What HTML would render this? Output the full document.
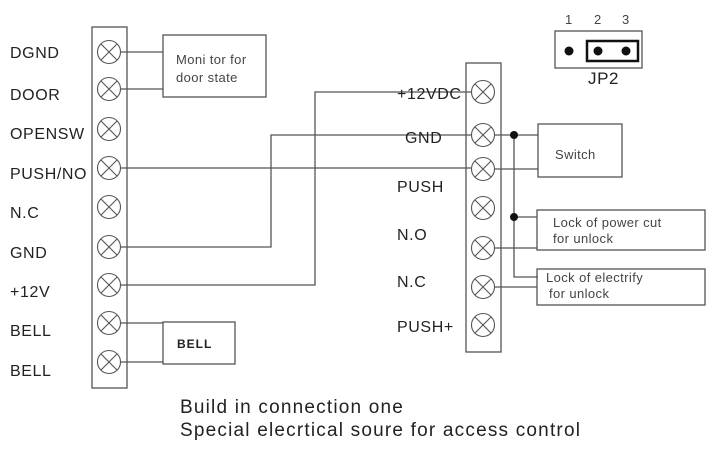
<!DOCTYPE html>
<html><head><style>body{margin:0;background:#fff}svg{display:block}</style></head><body>
<svg width="720" height="454" viewBox="0 0 720 454" xmlns="http://www.w3.org/2000/svg" font-family="Liberation Sans, Arial, sans-serif">
<g fill="none" stroke="#555" stroke-width="1.3">
<rect x="92" y="27" width="35" height="361"/>
<rect x="466" y="63" width="35" height="289"/>
<rect x="163" y="35" width="103" height="62"/>
<rect x="163" y="322" width="72" height="42"/>
<rect x="538" y="124" width="84" height="53"/>
<rect x="537" y="210" width="168" height="40"/>
<rect x="537" y="269" width="168" height="36"/>
<rect x="555" y="31" width="87" height="37"/>
<path d="M121 52H163M121 89H163M121 323H163M121 362H163"/>
<path d="M121 247H271V135H471M121 168H471M121 285H315V92H471"/>
<path d="M495 135H538M495 169H538M514 135V277H538M514 217H537M495 248H537M495 287H537"/>
</g>
<g stroke="#555" stroke-width="1.1" fill="#fff">
<circle cx="109" cy="52" r="11.5"/><circle cx="109" cy="89" r="11.5"/><circle cx="109" cy="129" r="11.5"/><circle cx="109" cy="168" r="11.5"/><circle cx="109" cy="207" r="11.5"/><circle cx="109" cy="247" r="11.5"/><circle cx="109" cy="285" r="11.5"/><circle cx="109" cy="323" r="11.5"/><circle cx="109" cy="362" r="11.5"/>
<circle cx="483" cy="92" r="11.5"/><circle cx="483" cy="135" r="11.5"/><circle cx="483" cy="169" r="11.5"/><circle cx="483" cy="208" r="11.5"/><circle cx="483" cy="248" r="11.5"/><circle cx="483" cy="287" r="11.5"/><circle cx="483" cy="325" r="11.5"/>
</g>
<g stroke="#555" stroke-width="1.1">
<path d="M101 44l16 16M117 44l-16 16M101 81l16 16M117 81l-16 16M101 121l16 16M117 121l-16 16M101 160l16 16M117 160l-16 16M101 199l16 16M117 199l-16 16M101 239l16 16M117 239l-16 16M101 277l16 16M117 277l-16 16M101 315l16 16M117 315l-16 16M101 354l16 16M117 354l-16 16"/>
<path d="M475 84l16 16M491 84l-16 16M475 127l16 16M491 127l-16 16M475 161l16 16M491 161l-16 16M475 200l16 16M491 200l-16 16M475 240l16 16M491 240l-16 16M475 279l16 16M491 279l-16 16M475 317l16 16M491 317l-16 16"/>
</g>
<circle cx="514" cy="135" r="4" fill="#111"/><circle cx="514" cy="217" r="4" fill="#111"/>
<circle cx="569" cy="51" r="4.5" fill="#111"/><circle cx="598" cy="51" r="4.5" fill="#111"/><circle cx="626" cy="51" r="4.5" fill="#111"/>
<rect x="587" y="41" width="51" height="20" fill="none" stroke="#111" stroke-width="2.5"/>
<g fill="#222" font-size="16" letter-spacing="0.6">
<text x="10" y="58">DGND</text><text x="10" y="100">DOOR</text><text x="10" y="139">OPENSW</text><text x="10" y="179">PUSH/NO</text><text x="10" y="218">N.C</text><text x="10" y="258">GND</text><text x="10" y="297">+12V</text><text x="10" y="336">BELL</text><text x="10" y="376">BELL</text>
<text x="397" y="99">+12VDC</text><text x="405" y="143">GND</text><text x="397" y="192">PUSH</text><text x="397" y="240">N.O</text><text x="397" y="287">N.C</text><text x="397" y="332">PUSH+</text>
<text x="588" y="84" font-size="17">JP2</text>
</g>
<g fill="#444" font-size="13" letter-spacing="0.4">
<text x="176" y="64">Moni tor for</text><text x="176" y="82">door state</text>
<text x="555" y="159">Switch</text>
<text x="553" y="227">Lock of power cut</text><text x="553" y="243">for unlock</text>
<text x="546" y="282">Lock of electrify</text><text x="549" y="298">for unlock</text>
<text x="565" y="24">1</text><text x="594" y="24">2</text><text x="622" y="24">3</text>
</g>
<text x="177" y="348" font-size="12" font-weight="bold" fill="#222" letter-spacing="1">BELL</text>
<g fill="#222" font-size="19" letter-spacing="1.2"><text x="180" y="413">Build in connection one</text><text x="180" y="436">Special elecrtical soure for access control</text></g>
</svg>
</body></html>
